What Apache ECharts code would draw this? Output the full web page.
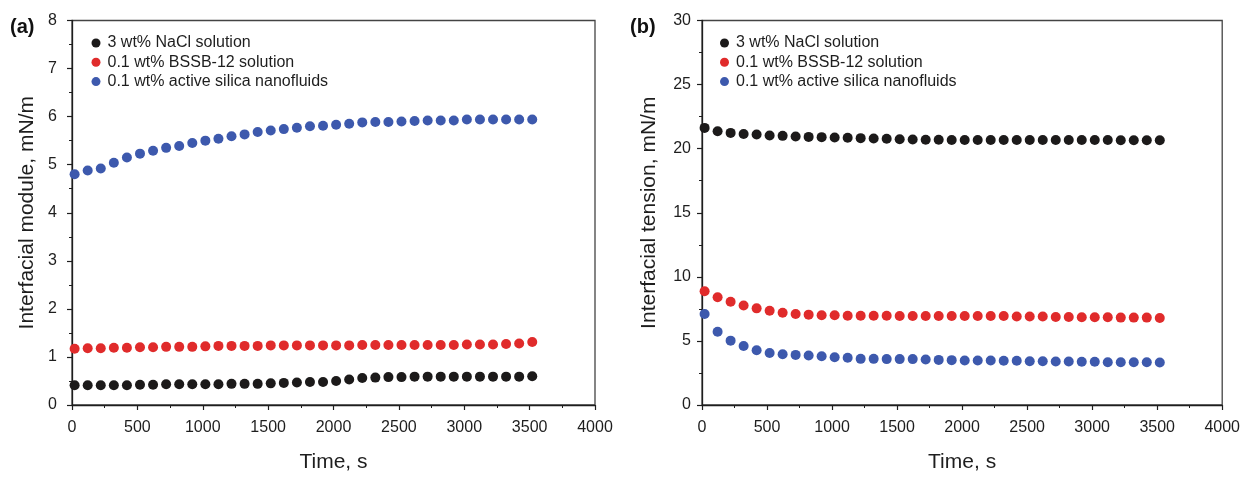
<!DOCTYPE html>
<html>
<head>
<meta charset="utf-8">
<script src="https://cdn.jsdelivr.net/npm/echarts@6/dist/echarts.min.js"></script>
<style>
  html, body { margin: 0; padding: 0; background: #fff; }
  #chart { width: 1243px; height: 478px; }
</style>
</head>
<body>
<div id="chart"></div>
<script>
// Sampling times (s), one reading every 100 s
const timeS = [20, 120, 220, 320, 420, 520, 620, 720, 820, 920, 1020, 1120, 1220, 1320, 1420, 1520, 1620, 1720,
  1820, 1920, 2020, 2120, 2220, 2320, 2420, 2520, 2620, 2720, 2820, 2920, 3020, 3120, 3220, 3320, 3420, 3520];

const seriesNames = ['3 wt% NaCl solution', '0.1 wt% BSSB-12 solution', '0.1 wt% active silica nanofluids'];

// (a) interfacial module, mN/m
const moduleNaCl = [0.41, 0.41, 0.41, 0.41, 0.41, 0.42, 0.42, 0.43, 0.43, 0.43, 0.43, 0.43, 0.44, 0.44, 0.44, 0.45, 0.46, 0.47,
  0.48, 0.48, 0.50, 0.53, 0.56, 0.57, 0.58, 0.58, 0.59, 0.59, 0.59, 0.59, 0.59, 0.59, 0.59, 0.59, 0.59, 0.60];
const moduleBSSB = [1.17, 1.18, 1.18, 1.19, 1.19, 1.20, 1.20, 1.21, 1.21, 1.21, 1.22, 1.23, 1.23, 1.23, 1.23, 1.24, 1.24, 1.24,
  1.24, 1.24, 1.24, 1.24, 1.25, 1.25, 1.25, 1.25, 1.25, 1.25, 1.25, 1.25, 1.26, 1.26, 1.26, 1.27, 1.28, 1.31];
const moduleSilica = [4.80, 4.88, 4.92, 5.04, 5.15, 5.23, 5.29, 5.35, 5.39, 5.45, 5.50, 5.54, 5.59, 5.63, 5.68, 5.71, 5.74, 5.77,
  5.80, 5.81, 5.83, 5.85, 5.88, 5.89, 5.89, 5.90, 5.91, 5.92, 5.92, 5.92, 5.94, 5.94, 5.94, 5.94, 5.94, 5.94];

// (b) interfacial tension, mN/m
const tensionNaCl = [21.62, 21.36, 21.23, 21.15, 21.10, 21.03, 21.00, 20.95, 20.92, 20.90, 20.87, 20.85, 20.82, 20.80, 20.77, 20.74, 20.72, 20.70,
  20.69, 20.68, 20.68, 20.67, 20.67, 20.67, 20.67, 20.67, 20.67, 20.67, 20.67, 20.67, 20.67, 20.67, 20.65, 20.65, 20.65, 20.65];
const tensionBSSB = [8.88, 8.41, 8.05, 7.77, 7.54, 7.36, 7.20, 7.10, 7.05, 7.00, 7.00, 6.97, 6.97, 6.97, 6.97, 6.95, 6.95, 6.95,
  6.95, 6.95, 6.95, 6.95, 6.95, 6.95, 6.90, 6.90, 6.90, 6.87, 6.87, 6.84, 6.84, 6.84, 6.82, 6.82, 6.82, 6.79];
const tensionSilica = [7.10, 5.71, 5.02, 4.60, 4.27, 4.06, 3.96, 3.91, 3.86, 3.81, 3.73, 3.68, 3.60, 3.60, 3.58, 3.58, 3.58, 3.55,
  3.52, 3.50, 3.47, 3.47, 3.47, 3.45, 3.45, 3.42, 3.42, 3.40, 3.40, 3.37, 3.37, 3.34, 3.34, 3.34, 3.34, 3.32];

const colors = ['#1c1a1a', '#e02b2b', '#3d59ad'];
const FONT = 'Liberation Sans, Arial, sans-serif';
const AXIS_COLOR = '#1e1e1e';

function pairs(ys) { return timeS.map((t, i) => [t, ys[i]]); }

// plain integer tick text, no thousands separator
const plain = v => String(v);

function xAxisFor(gridIndex) {
  return {
    type: 'value', gridIndex, min: 0, max: 4000, interval: 500,
    name: 'Time, s', nameLocation: 'middle', nameGap: 47,
    nameTextStyle: { fontFamily: FONT, fontSize: 21, color: AXIS_COLOR },
    axisLine: { lineStyle: { color: AXIS_COLOR, width: 1.3 } },
    axisTick: { inside: false, length: 5, lineStyle: { color: AXIS_COLOR, width: 1.2 } },
    minorTick: { show: true, splitNumber: 2, length: 3, lineStyle: { color: AXIS_COLOR, width: 1 } },
    axisLabel: { fontFamily: FONT, fontSize: 16, color: AXIS_COLOR, margin: 15, formatter: plain },
    splitLine: { show: false }
  };
}

function yAxisFor(gridIndex, max, interval, name, nameGap, labelMargin) {
  return {
    type: 'value', gridIndex, min: 0, max, interval,
    name, nameLocation: 'middle', nameGap,
    nameTextStyle: { fontFamily: FONT, fontSize: 21, color: AXIS_COLOR },
    axisLine: { show: true, lineStyle: { color: AXIS_COLOR, width: 1.3 } },
    axisTick: { show: true, inside: false, length: 5, lineStyle: { color: AXIS_COLOR, width: 1.2 } },
    minorTick: { show: true, splitNumber: 2, length: 3, lineStyle: { color: AXIS_COLOR, width: 1 } },
    axisLabel: { fontFamily: FONT, fontSize: 16, color: AXIS_COLOR, margin: labelMargin, formatter: plain },
    splitLine: { show: false }
  };
}

function scatter(nameIdx, data, gridIdx) {
  return {
    name: seriesNames[nameIdx], type: 'scatter',
    xAxisIndex: gridIdx, yAxisIndex: gridIdx,
    data: pairs(data), symbol: 'circle', symbolSize: 10,
    itemStyle: { color: colors[nameIdx], opacity: 1 },
    z: 3
  };
}

function legendAt(left) {
  return {
    data: seriesNames, orient: 'vertical', left, top: 30,
    icon: 'circle', itemWidth: 9, itemHeight: 9, itemGap: 3.3,
    textStyle: { fontFamily: FONT, fontSize: 16, color: AXIS_COLOR, padding: [0, 0, 0, 2] },
    selectedMode: false
  };
}

const chart = echarts.init(document.getElementById('chart'), null, { renderer: 'canvas' });
chart.setOption({
  animation: false,
  backgroundColor: '#fff',
  color: colors,
  title: [
    { text: '(a)', left: 5, top: 12, textStyle: { fontFamily: FONT, fontSize: 20, fontWeight: 'bold', color: '#111' } },
    { text: '(b)', left: 625, top: 12, textStyle: { fontFamily: FONT, fontSize: 20, fontWeight: 'bold', color: '#111' } }
  ],
  legend: [legendAt(86.5), legendAt(715)],
  grid: [
    { left: 72, top: 20.5, width: 523, height: 388, show: true, borderColor: '#444', borderWidth: 1.3, containLabel: false },
    { left: 702, top: 20.5, width: 522, height: 388.5, show: true, borderColor: '#444', borderWidth: 1.3, containLabel: false }
  ],
  xAxis: [xAxisFor(0), xAxisFor(1)],
  yAxis: [
    yAxisFor(0, 8, 1, 'Interfacial module, mN/m', 34, 15),
    yAxisFor(1, 30, 5, 'Interfacial tension, mN/m', 42, 11)
  ],
  series: [
    scatter(0, moduleNaCl, 0), scatter(1, moduleBSSB, 0), scatter(2, moduleSilica, 0),
    scatter(0, tensionNaCl, 1), scatter(1, tensionBSSB, 1), scatter(2, tensionSilica, 1)
  ]
});
</script>
</body>
</html>
